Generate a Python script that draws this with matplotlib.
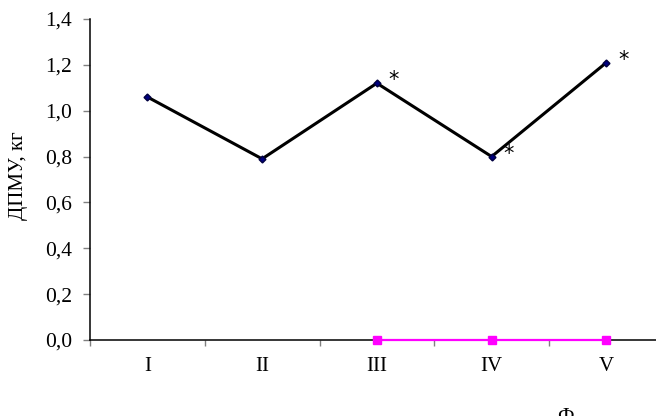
import matplotlib
matplotlib.use("Agg")
import matplotlib.pyplot as plt
from matplotlib.ticker import FixedLocator, FuncFormatter

categories = ["I", "II", "III", "IV", "V"]
main_values = [1.06, 0.79, 1.12, 0.80, 1.21]
zero_cats = ["III", "IV", "V"]
zero_values = [0.0, 0.0, 0.0]
star_cats = ["III", "IV", "V"]
yticks = [0.0, 0.2, 0.4, 0.6, 0.8, 1.0, 1.2, 1.4]

plt.rcParams['font.family'] = ['Liberation Serif', 'DejaVu Serif']

W, H = 656, 416
fig = plt.figure(figsize=(W / 100, H / 100), dpi=100)
ax = fig.add_axes([90 / W, (H - 340) / H, 573.75 / W, 321 / H])

xpos = {c: i + 1 for i, c in enumerate(categories)}
ax.plot([xpos[c] for c in categories], main_values, color="black", lw=2.2,
        marker="D", markersize=3.5, markerfacecolor="#000080", markeredgecolor="#000040",
        zorder=3)
ax.plot([xpos[c] for c in zero_cats], zero_values, color="#ff00ff", lw=1.6,
        marker="s", markersize=6, markerfacecolor="#ff00ff", markeredgecolor="#ff00ff",
        zorder=4, clip_on=False)

for c in star_cats:
    v = main_values[categories.index(c)]
    ax.annotate("*", (xpos[c], v), xytext=(17, 3), textcoords="offset pixels",
                ha="center", va="center", fontsize=15, family="DejaVu Sans")

ax.set_xlim(0.5, 5.5)
ax.set_ylim(0, 1.4)
ax.set_yticks(yticks)
ax.yaxis.set_major_formatter(FuncFormatter(lambda v, p: f"{v:.1f}".replace(".", ",")))
ax.set_xticks(range(1, 6))
ax.set_xticklabels(categories)
ax.xaxis.set_minor_locator(FixedLocator([0.5, 1.5, 2.5, 3.5, 4.5, 5.5]))

ax.tick_params(axis="x", which="major", length=0, pad=12, labelsize=15)
ax.tick_params(axis="x", which="minor", length=4.5, width=1, color="#808080", direction="out")
ax.tick_params(axis="y", which="major", length=5, width=1, color="#808080",
               direction="out", pad=8, labelsize=15.5)

for s in ["top", "right"]:
    ax.spines[s].set_visible(False)
for s in ["left", "bottom"]:
    ax.spines[s].set_linewidth(1.1)
    ax.spines[s].set_color("black")

fig.text(19 / W, 1 - 176 / H, "ДПМУ, кг", rotation=90, ha="center", va="center", fontsize=15)
fig.text(565 / W, 1 - 408 / H, "Ф", ha="center", va="top", fontsize=15)

fig.savefig("out.png", dpi=100)
